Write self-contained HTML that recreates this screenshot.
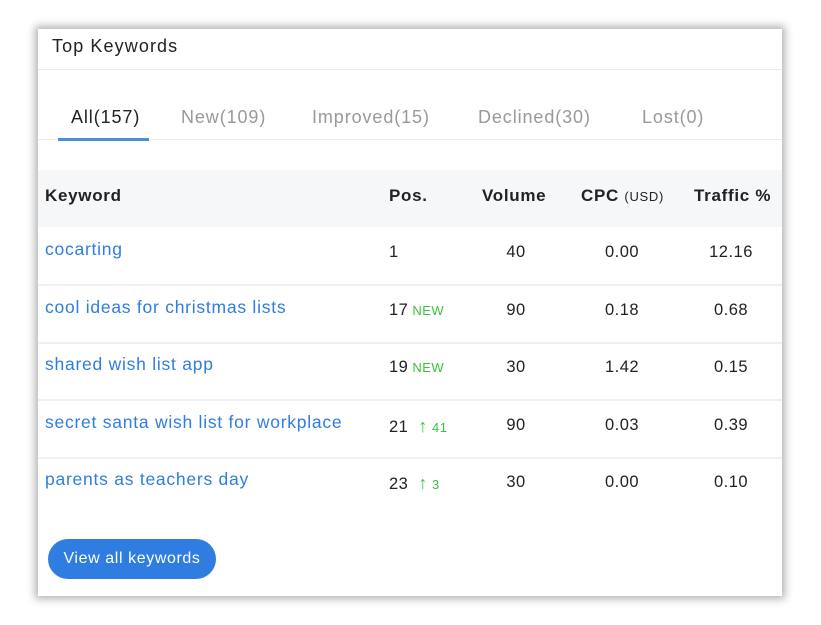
<!DOCTYPE html>
<html><head><meta charset="utf-8"><style>
body{margin:0;width:821px;height:625px;background:#fff;font-family:"Liberation Sans",sans-serif;position:relative;overflow:hidden}
.card{position:absolute;left:38px;top:29px;width:744px;height:567px;background:#fff;box-shadow:0 0 8px 3px rgba(0,0,0,0.3)}
.abs{position:absolute;white-space:nowrap}
.title{left:14px;top:7px;font-size:18px;letter-spacing:1.1px;color:#222}
.hdiv{left:0;width:744px;height:1px;background:#e9ecef}
.tab{top:78px;font-size:18px;letter-spacing:0.9px;color:#999}
.th{top:157px;font-size:17px;font-weight:bold;color:#222;letter-spacing:0.7px}
.kw{left:7px;font-size:17.5px;letter-spacing:0.75px;color:#2f7de1}
.num{font-size:16.5px;color:#222;text-align:center;width:80px;letter-spacing:0.5px}
.g{color:#3cc13b;font-size:13px;letter-spacing:0.5px}
</style></head><body>
<div class="card">
<div class="abs title">Top Keywords</div>
<div class="abs hdiv" style="top:40px"></div>
<div class="abs tab" style="left:33px;color:#222">All(157)</div>
<div class="abs tab" style="left:143px">New(109)</div>
<div class="abs tab" style="left:274px">Improved(15)</div>
<div class="abs tab" style="left:440px">Declined(30)</div>
<div class="abs tab" style="left:604px">Lost(0)</div>
<div class="abs hdiv" style="top:110px"></div>
<div class="abs" style="left:20px;top:109px;width:91px;height:3px;background:#4a90d9"></div>
<div class="abs" style="left:0;top:141px;width:744px;height:57px;background:#f6f7f9"></div>
<div class="abs th" style="left:7px">Keyword</div>
<div class="abs th" style="left:351px">Pos.</div>
<div class="abs th" style="left:444px">Volume</div>
<div class="abs th" style="left:543px">CPC <span style="font-size:13px;font-weight:normal">(USD)</span></div>
<div class="abs th" style="left:656px">Traffic %</div>
<div id="rows"></div>
<div class="abs" style="left:10px;top:510px;width:168px;height:40px;border-radius:20px;background:#2f7de1;color:#fff;font-size:16px;letter-spacing:0.6px;line-height:40px;text-align:center">View all keywords</div>
</div>
<script>
const keywords=["cocarting","cool ideas for christmas lists","shared wish list app","secret santa wish list for workplace","parents as teachers day"];
const positions=[1,17,19,21,23];
const changes=["","NEW","NEW","↑ 41","↑ 3"];
const volumes=[40,90,30,90,30];
const cpcs=["0.00","0.18","1.42","0.03","0.00"];
const traffic=["12.16","0.68","0.15","0.39","0.10"];
const rows=document.getElementById('rows');
keywords.forEach((k,i)=>{
 const y=198+i*57.5;
 let h='';
 h+=`<div class="abs kw" style="top:${y+12}px">${k}</div>`;
 let ch=changes[i]?(changes[i]==='NEW'?`<span class="g" style="margin-left:4px">NEW</span>`:`<span class="g" style="margin-left:10px"><span style="font-size:18px">↑</span> ${changes[i].slice(2)}</span>`):'';
 h+=`<div class="abs" style="left:351px;top:${y+16}px;font-size:16.5px;color:#222;letter-spacing:0.5px">${positions[i]}${ch}</div>`;
 h+=`<div class="abs num" style="left:438px;top:${y+16}px">${volumes[i]}</div>`;
 h+=`<div class="abs num" style="left:544px;top:${y+16}px">${cpcs[i]}</div>`;
 h+=`<div class="abs num" style="left:653px;top:${y+16}px">${traffic[i]}</div>`;
 if(i<4) h+=`<div class="abs hdiv" style="top:${y+57}px;height:2px;background:#eef0f2"></div>`;
 rows.insertAdjacentHTML('beforeend',h);
});
</script>
</body></html>
